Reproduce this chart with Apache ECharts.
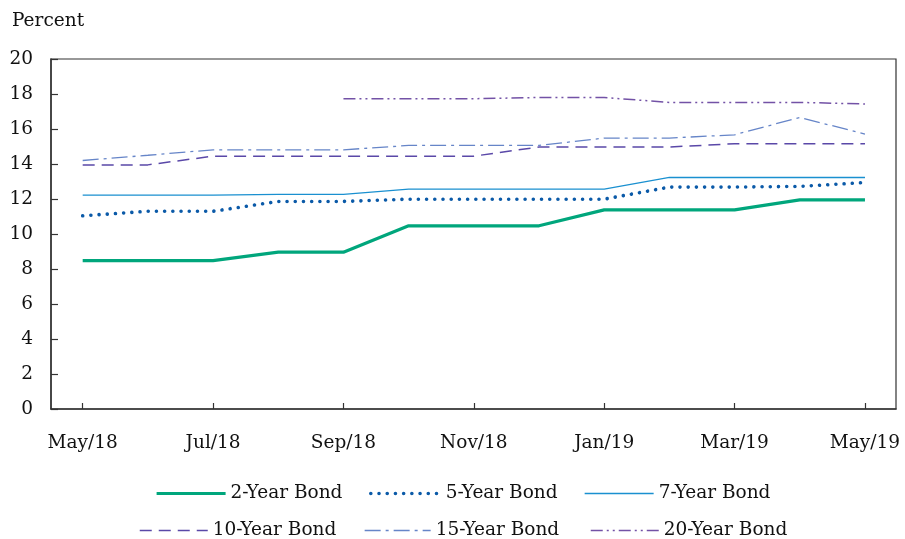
<!DOCTYPE html>
<html><head><meta charset="utf-8">
<script src="https://cdn.jsdelivr.net/npm/echarts@6/dist/echarts.min.js"></script>
<style>html,body{margin:0;padding:0;background:#fff}#c{width:905px;height:539px}</style>
</head><body><div id="c"></div>
<script>
const months = ['May/18','Jun/18','Jul/18','Aug/18','Sep/18','Oct/18','Nov/18','Dec/18','Jan/19','Feb/19','Mar/19','Apr/19','May/19'];
const tickMonths = [0,2,4,6,8,10,12];
const yTicks = [0,2,4,6,8,10,12,14,16,18,20];
const bond2  = [8.48,8.48,8.48,8.96,8.96,10.47,10.47,10.47,11.38,11.38,11.38,11.95,11.95];
const bond5  = [11.04,11.3,11.3,11.86,11.86,11.99,11.99,11.99,11.99,12.68,12.68,12.72,12.94];
const bond7  = [12.22,12.22,12.22,12.27,12.27,12.56,12.56,12.56,12.56,13.23,13.23,13.23,13.23];
const bond10 = [13.95,13.95,14.45,14.45,14.45,14.45,14.45,14.97,14.97,14.97,15.16,15.16,15.16];
const bond15 = [14.2,14.5,14.81,14.81,14.81,15.06,15.06,15.06,15.48,15.48,15.67,16.66,15.71];
const bond20 = [null,null,null,null,17.73,17.73,17.73,17.8,17.8,17.52,17.52,17.52,17.43];
const names = ['2-Year Bond','5-Year Bond','7-Year Bond','10-Year Bond','15-Year Bond','20-Year Bond'];

const FONT = 'DejaVu Serif';
const FS = 18.5;
const pairs = arr => arr.map((v,i)=>[i,v]);
const styles = [
  {color:'#00a67c', width:3.2, type:'solid'},
  {color:'#0b5aa8', width:3.6, type:[0.01,8.2], cap:'round'},
  {color:'#1a90d0', width:1.3, type:'solid'},
  {color:'#5a48a8', width:1.5, type:[12,7]},
  {color:'#6685c8', width:1.3, type:[16,5,3,5]},
  {color:'#7352a6', width:1.5, type:[12,4,2,4,2,4]}
];
const datas = [bond2,bond5,bond7,bond10,bond15,bond20];
const series = datas.map((d,i)=>({
  name:names[i], type:'line', data:pairs(d), symbol:'none', silent:true,
  color:styles[i].color,
  lineStyle:{color:styles[i].color,width:styles[i].width,type:styles[i].type,cap:styles[i].cap||'butt'},
  itemStyle:{color:styles[i].color}, z: i===0?3:2
}));
const legPos = [
  {left:150, top:479, w:69, gap:15}, {left:364, top:479, w:70, gap:15}, {left:579, top:479, w:69, gap:15},
  {left:134, top:516, w:68, gap:18}, {left:359, top:516, w:66, gap:17}, {left:585, top:516, w:68, gap:16}
];
const legends = names.map((n,i)=>({
  data:[n], left:legPos[i].left, top:legPos[i].top, itemWidth:legPos[i].w, itemHeight:14, itemGap:0,
  itemTextGap:legPos[i].gap, selectedMode:false,
  itemStyle:{opacity:0},
  lineStyle:{color:styles[i].color,width:styles[i].width,type:styles[i].type,cap:styles[i].cap||'butt',inactiveWidth:styles[i].width},
  textStyle:{fontFamily:FONT,fontSize:FS,color:'#111'}
}));
const chart = echarts.init(document.getElementById('c'));
chart.setOption({
  animation:false,
  backgroundColor:'#fff',
  graphic:[{type:'text', left:12, top:12, style:{text:'Percent', font:FS+'px "DejaVu Serif"', fill:'#111'}}],
  grid:{left:51,right:9,top:59,bottom:130,show:true,borderColor:'#333',borderWidth:1.2,containLabel:false},
  legend:legends,
  xAxis:{type:'value', min:-0.486, max:12.476,
    axisLine:{onZero:false,lineStyle:{color:'#333',width:1.5}},
    axisTick:{inside:true,length:6,customValues:tickMonths,lineStyle:{color:'#333',width:1.2}},
    axisLabel:{customValues:tickMonths,formatter:v=>months[Math.round(v)],margin:25,fontFamily:FONT,fontSize:FS,color:'#111'},
    splitLine:{show:false}},
  yAxis:{type:'value', min:0, max:20, interval:2,
    axisLine:{show:true,onZero:false,lineStyle:{color:'#333',width:1.5}},
    axisTick:{show:true,inside:true,length:7,lineStyle:{color:'#333',width:1.2}},
    axisLabel:{margin:18,fontFamily:FONT,fontSize:FS,color:'#111',formatter:v=>yTicks.includes(v)?String(v):''},
    splitLine:{show:false}},
  series:series
});
</script></body></html>
